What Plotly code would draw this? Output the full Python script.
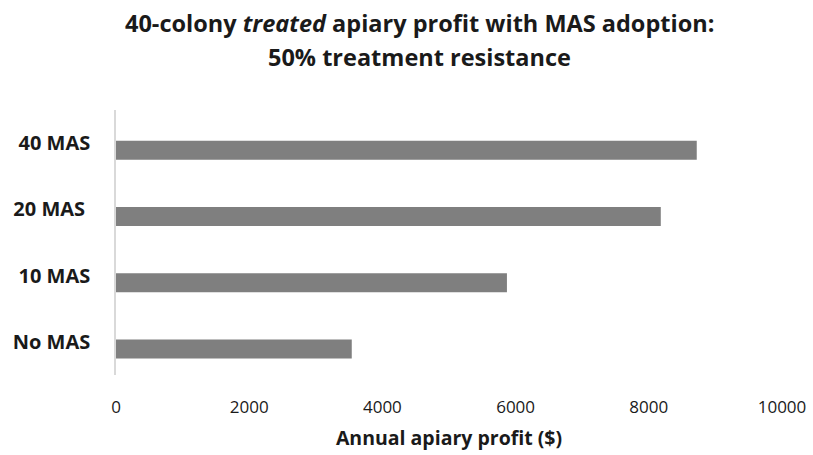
import plotly.graph_objects as go

categories = ["No MAS", "10 MAS", "20 MAS\u00a0", "40 MAS"]
profits = [3540, 5870, 8180, 8720]
x_ticks = [0, 2000, 4000, 6000, 8000, 10000]
title_lines = ["40-colony <i>treated</i> apiary profit with MAS adoption:",
               "50% treatment resistance"]

FONT = "'Open Sans', Lato, sans-serif"
TXT = "#1a1a1a"

fig = go.Figure(
    go.Bar(
        y=categories,
        x=profits,
        orientation="h",
        marker=dict(color="#7f7f7f", line=dict(width=0)),
        width=0.287,
        offset=-0.25,
        hoverinfo="x+y",
    )
)

fig.update_layout(
    width=813,
    height=455,
    paper_bgcolor="white",
    plot_bgcolor="white",
    margin=dict(l=116, r=31, t=110, b=80, autoexpand=False),
    showlegend=False,
    annotations=[
        dict(text=title_lines[0], xref="paper", yref="paper",
             x=(419 - 116) / 666, y=1 + (110 - 23) / 265,
             xanchor="center", yanchor="middle", showarrow=False,
             font=dict(family=FONT, size=23.5, color=TXT, weight="bold")),
        dict(text=title_lines[1], xref="paper", yref="paper",
             x=(419 - 116) / 666, y=1 + (110 - 57) / 265,
             xanchor="center", yanchor="middle", showarrow=False,
             font=dict(family=FONT, size=23.5, color=TXT, weight="bold")),
    ],
)

fig.update_xaxes(
    range=[0, 10000],
    tickvals=x_ticks,
    ticktext=[str(v) for v in x_ticks],
    showgrid=False,
    zeroline=False,
    showline=False,
    ticks="",
    automargin=False,
    ticklabelstandoff=20,
    tickfont=dict(family=FONT, size=17, color=TXT),
    title=dict(
        text="Annual apiary profit ($)",
        font=dict(family=FONT, size=19.5, color=TXT, weight="bold"),
        standoff=14,
    ),
)

fig.update_yaxes(
    categoryorder="array",
    categoryarray=categories,
    showgrid=False,
    zeroline=False,
    showline=True,
    linecolor="#d9d9d9",
    linewidth=1.5,
    ticks="",
    automargin=False,
    ticklabelstandoff=20,
    tickfont=dict(family=FONT, size=20, color=TXT, weight="bold"),
)

fig.write_html("out.html", config={"displayModeBar": False},
               post_script="document.body.style.margin='0';")
